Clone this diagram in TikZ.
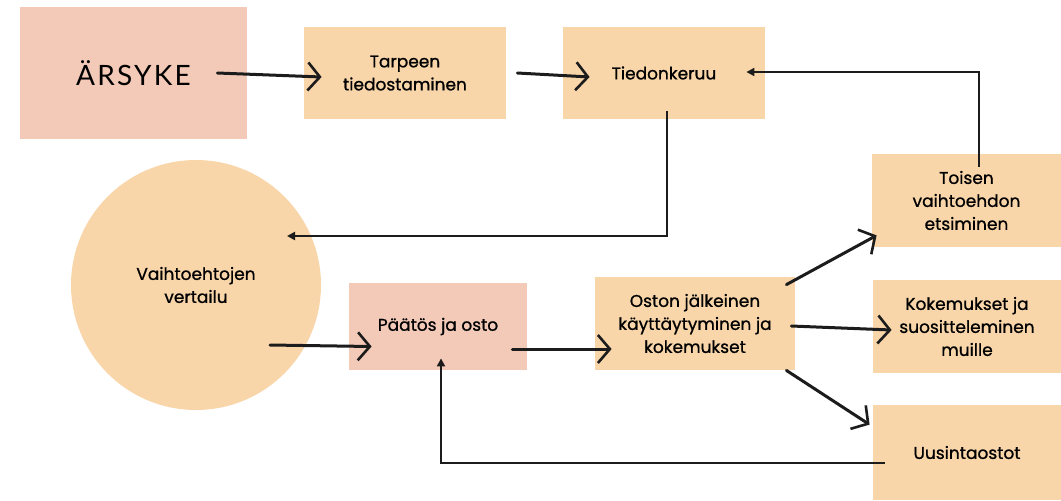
\documentclass[tikz,border=0pt]{standalone}
\usepackage{fontspec}
\setmainfont{Poppins}[UprightFeatures={FakeBold=0.9}]
\newfontfamily\titlefont{Lato}[LetterSpace=8]
\usetikzlibrary{arrows.meta, calc, positioning}

\definecolor{salmon}{HTML}{F3CAB8}
\definecolor{peach}{HTML}{F9D6AA}
\definecolor{ink}{HTML}{1C1C1C}

\begin{document}
\begin{tikzpicture}[x=0.5pt, y=-0.5pt,
    stage/.style={rectangle, fill=peach, align=center, inner sep=0pt,
        font=\fontsize{8.5}{11.5}\selectfont},
    flow/.style={draw=ink, line width=1.5pt, line cap=round,
        -{Straight Barb[length=6pt, width=14pt, line width=1.3pt]}},
    back/.style={draw=ink, line width=1pt,
        -{Triangle[length=4pt, width=4pt]}}]
    \useasboundingbox (0,0) rectangle (1061,500);

    % Top row
    \node[stage, fill=salmon, minimum width=113.5pt, minimum height=66pt,
        font=\titlefont\fontsize{14}{16}\selectfont] (arsyke) at (133.5,73) {ÄRSYKE};
    \node[stage, minimum width=101pt, minimum height=46pt] (tarve) at (405,73)
        {Tarpeen\\tiedostaminen};
    \node[stage, minimum width=101pt, minimum height=46pt] (tiedon) at (664,73)
        {Tiedonkeruu};

    % Comparison and purchase
    \node[stage, circle, minimum size=125pt] (vertailu) at (196,285)
        {Vaihtoehtojen\\vertailu};
    \node[stage, fill=salmon, minimum width=89pt, minimum height=43.5pt] (paatos) at (438,326.5)
        {Päätös ja osto};
    \node[stage, minimum width=100pt, minimum height=46.5pt] (jalkeen) at (695,323.5)
        {Oston jälkeinen\\käyttäytyminen ja\\kokemukset};

    % Right column
    \node[stage, minimum width=94.5pt, minimum height=46.5pt] (toinen) at (966.5,200.5)
        {Toisen\\vaihtoehdon\\etsiminen};
    \node[stage, minimum width=94pt, minimum height=46.5pt] (suositus) at (967,326.5)
        {Kokemukset ja\\suositteleminen\\muille};
    \node[stage, minimum width=94pt, minimum height=47.5pt] (uusinta) at (967,452.5)
        {Uusintaostot};

    % Main flow
    \draw[flow] ([xshift=-15pt]arsyke.east) -- ([xshift=9pt, yshift=-2pt]tarve.west);
    \draw[flow] ([xshift=5.5pt]tarve.east) -- ([xshift=13.5pt, yshift=-2pt]tiedon.west);
    \draw[flow] ([xshift=37pt, yshift=-30pt]vertailu.center) -- ([xshift=11.5pt, yshift=-10pt]paatos.west);
    \draw[flow] ([xshift=-7.5pt, yshift=-11.25pt]paatos.east) -- ([xshift=8.5pt, yshift=-12.75pt]jalkeen.west);
    \draw[flow] ([xshift=-4.5pt, yshift=-4pt]jalkeen.north east) -- ([xshift=2.5pt, yshift=6pt]toinen.south west);
    \draw[flow] ([xshift=-2pt, yshift=-1.25pt]jalkeen.east) -- ([xshift=9.5pt, yshift=-1.75pt]suositus.west);
    \draw[flow] ([xshift=-4.5pt]jalkeen.south east) -- ([xshift=-1.5pt, yshift=-10pt]uusinta.north west);

    % Feedback lines
    \draw[back] ([xshift=6pt, yshift=-6.5pt]toinen.north) |- ([xshift=-9.5pt, yshift=0.5pt]tiedon.east);
    \draw[back] ([xshift=1.5pt, yshift=4pt]tiedon.south) |- ([xshift=45.5pt, yshift=24.5pt]vertailu.center);
    \draw[back] ([xshift=6pt, yshift=-5.25pt]uusinta.west) -| ([xshift=1.5pt, yshift=6pt]paatos.south);
\end{tikzpicture}
\end{document}
